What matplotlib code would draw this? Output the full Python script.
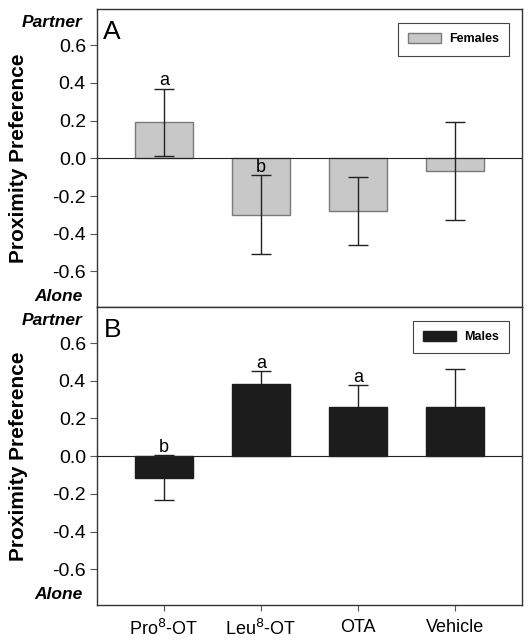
import matplotlib
matplotlib.use("Agg")
import matplotlib.pyplot as plt
from matplotlib.patches import Patch

plt.rcParams['font.family'] = ['Liberation Sans', 'DejaVu Sans']

categories = ["Pro$^{8}$-OT", "Leu$^{8}$-OT", "OTA", "Vehicle"]
female_means = [0.19, -0.30, -0.28, -0.065]
female_err = [0.18, 0.21, 0.18, 0.26]
male_means = [-0.115, 0.385, 0.259, 0.26]
male_err = [0.12, 0.065, 0.12, 0.20]
female_letters = ["a", "b", "", ""]
male_letters = ["b", "a", "a", ""]
yticks = [-0.6, -0.4, -0.2, 0.0, 0.2, 0.4, 0.6]

fig = plt.figure(figsize=(5.32, 6.42), dpi=100)
L, W = 97/532, 425/532
axA = fig.add_axes([L, 1-307.3/642, W, 298/642])
axB = fig.add_axes([L, 1-605/642, W, 297.7/642])

panels = [
    (axA, female_means, female_err, female_letters, "#c8c8c8", "#7a7a7a", "Females", "A", 3),
    (axB, male_means, male_err, male_letters, "#1c1c1c", "#1c1c1c", "Males", "B", 1),
]
x = list(range(len(categories)))
for ax, means, errs, letters, fc, ec, lab, pl, ez in panels:
    ax.bar(x, means, width=0.6, color=fc, edgecolor=ec, linewidth=1.0, zorder=2)
    ax.errorbar(x, means, yerr=errs, fmt='none', ecolor='#222222', elinewidth=1.0,
                capsize=7, capthick=1.0, zorder=ez)
    ax.axhline(0, color='#222222', linewidth=0.8, zorder=4)
    for xi, m, e, t in zip(x, means, errs, letters):
        if t:
            ax.text(xi, m + e - 0.005, t, ha='center', va='bottom', fontsize=13, zorder=5)
    ax.set_xlim(-0.69, 3.69)
    ax.set_ylim(-0.79, 0.79)
    ax.set_yticks(yticks)
    ax.set_yticklabels([f"{v:.1f}" for v in yticks], fontsize=14)
    ax.tick_params(axis='y', direction='out', length=5, width=0.8, pad=3, color='#555555')
    ax.tick_params(axis='x', direction='out', length=4, width=0.8, color='#555555')
    for s in ax.spines.values():
        s.set_color('#333333'); s.set_linewidth(1.0)
    ax.set_ylabel("Proximity Preference", fontsize=15, fontweight='bold')
    ax.yaxis.set_label_coords(-0.163, 0.5)
    ax.text(-0.035, 0.72, "Partner", transform=ax.get_yaxis_transform(), ha='right', va='center',
            fontsize=12.5, fontweight='bold', fontstyle='italic')
    ax.text(-0.035, -0.735, "Alone", transform=ax.get_yaxis_transform(), ha='right', va='center',
            fontsize=12.5, fontweight='bold', fontstyle='italic')
    ax.text(0.015, 0.965, pl, transform=ax.transAxes, ha='left', va='top', fontsize=19)
    leg = ax.legend(handles=[Patch(facecolor=fc, edgecolor=ec if pl == "A" else fc, label=lab)],
                    loc='upper right', prop={'weight': 'bold', 'size': 9},
                    fancybox=False, edgecolor='#444444', framealpha=1,
                    handlelength=2.6, handleheight=0.9, borderpad=0.8, handletextpad=0.7,
                    bbox_to_anchor=(0.985, 0.975))
    leg.get_frame().set_linewidth(0.8)

axA.set_xticks([])
axB.set_xticks(x)
axB.set_xticklabels(categories, fontsize=13)
axB.tick_params(axis='x', pad=6)

fig.savefig("out.png", dpi=100)
